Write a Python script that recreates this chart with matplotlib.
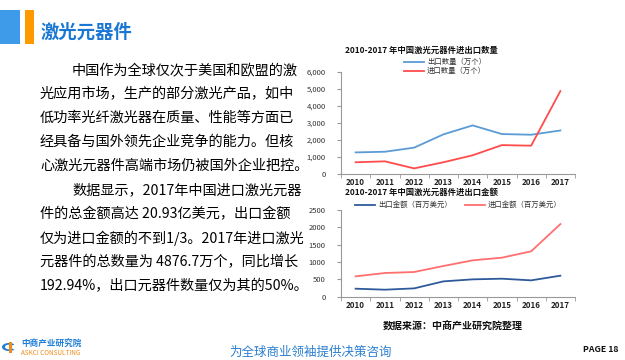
import matplotlib
matplotlib.use("Agg")
import matplotlib.pyplot as plt
from matplotlib.patches import Rectangle, Wedge
from matplotlib.ticker import FuncFormatter, FixedLocator

plt.rcParams['font.family'] = ['Noto Sans CJK SC', 'DejaVu Sans']

years = ["2010", "2011", "2012", "2013", "2014", "2015", "2016", "2017"]
export_qty = [1270, 1310, 1550, 2330, 2860, 2350, 2310, 2560]
import_qty = [690, 745, 330, 690, 1100, 1700, 1665, 4877]
export_amt = [231, 202, 240, 442, 500, 519, 471, 606]
import_amt = [587, 683, 712, 885, 1048, 1125, 1308, 2093]

top_title = "2010-2017 年中国激光元器件进出口数量"
top_legend = ["出口数量（万个）", "进口数量（万个）"]
bot_title = "2010-2017 年中国激光元器件进出口金额"
bot_legend = ["出口金额（百万美元）", "进口金额（百万美元）"]

body_lines = [
    "中国作为全球仅次于美国和欧盟的激",
    "光应用市场，生产的部分激光产品，如中",
    "低功率光纤激光器在质量、性能等方面已",
    "经具备与国外领先企业竞争的能力。但核",
    "心激光元器件高端市场仍被国外企业把控。",
    "数据显示，2017年中国进口激光元器",
    "件的总金额高达 20.93亿美元，出口金额",
    "仅为进口金额的不到1/3。2017年进口激光",
    "元器件的总数量为 4876.7万个，同比增长",
    "192.94%，出口元器件数量仅为其的50%。",
]
indent = [True, False, False, False, False, True, False, False, False, False]

W, H = 625, 360
fig = plt.figure(figsize=(6.25, 3.6), dpi=100)
fig.patch.set_facecolor("white")

def fx(x): return x / W
def fy(y): return 1 - y / H

# header bars
fig.patches.append(Rectangle((fx(0), fy(44)), fx(20), 34 / H, transform=fig.transFigure,
                             facecolor="#3d9be9", edgecolor="none"))
fig.patches.append(Rectangle((fx(25), fy(44)), fx(9), 34 / H, transform=fig.transFigure,
                             facecolor="#ff9900", edgecolor="none"))
fig.text(fx(41), fy(32), "激光元器件", fontsize=13.2, fontweight="bold", color="#1a78d4",
         va="center", ha="left")

# body text
y0 = 70
for i, line in enumerate(body_lines):
    x = 72 if indent[i] else 40
    fig.text(fx(x), fy(y0 + i * 24), line, fontsize=10.2, color="black", va="center", ha="left")

def style_axes(ax, ymax, step, fmt):
    n = len(years)
    ax.set_xlim(-0.5, n - 0.5)
    ax.set_ylim(0, ymax)
    for s in ["top", "right"]:
        ax.spines[s].set_visible(False)
    for s in ["left", "bottom"]:
        ax.spines[s].set_color("#999999")
        ax.spines[s].set_linewidth(0.8)
    ax.yaxis.set_major_locator(FixedLocator(list(range(0, ymax + 1, step))))
    ax.yaxis.set_major_formatter(FuncFormatter(fmt))
    ax.set_xticks(range(n))
    ax.set_xticklabels(years)
    ax.set_xticks([i + 0.5 for i in range(-1, n)], minor=True)
    ax.tick_params(axis="x", which="major", length=0, labelsize=5.8, pad=3, colors="#222222")
    ax.tick_params(axis="x", which="minor", length=3, color="#999999", direction="out")
    ax.tick_params(axis="y", length=3, color="#999999", labelsize=5.5, labelcolor="#333333", pad=8)
    for lab in ax.get_xticklabels():
        lab.set_fontweight("bold")
    ax.patch.set_alpha(0)

# top chart
ax1 = fig.add_axes([fx(341), fy(174), 234 / W, 102 / H])
x = range(len(years))
ax1.plot(x, export_qty, color="#5b9bd5", lw=1.3)
ax1.plot(x, import_qty, color="#ff4b4b", lw=1.3)
style_axes(ax1, 6000, 1000, lambda v, p: f"{int(v):,}")
fig.text(fx(345), fy(50), top_title, fontsize=6.0, fontweight="bold", color="#111111",
         va="center", ha="left")
for yy, col, lab in [(62, "#5b9bd5", top_legend[0]), (71, "#ff4b4b", top_legend[1])]:
    fig.lines.append(plt.Line2D([fx(404), fx(424)], [fy(yy), fy(yy)], color=col, lw=1.3,
                                transform=fig.transFigure))
    fig.text(fx(427), fy(yy), lab, fontsize=5.3, color="#333333", va="center", ha="left")

# bottom chart
ax2 = fig.add_axes([fx(341), fy(296.7), 234 / W, 86.7 / H])
ax2.plot(x, export_amt, color="#2e5a9c", lw=1.3)
ax2.plot(x, import_amt, color="#ff6f6f", lw=1.3)
style_axes(ax2, 2500, 500, lambda v, p: f"{int(v)}")
fig.text(fx(345), fy(192), bot_title, fontsize=6.0, fontweight="bold", color="#111111",
         va="center", ha="left")
for x0, col, lab in [(355, "#2e5a9c", bot_legend[0]), (465, "#ff6f6f", bot_legend[1])]:
    fig.lines.append(plt.Line2D([fx(x0), fx(x0 + 20)], [fy(205), fy(205)], color=col, lw=1.3,
                                transform=fig.transFigure))
    fig.text(fx(x0 + 23), fy(205), lab, fontsize=5.3, color="#333333", va="center", ha="left")

# source
fig.text(fx(383), fy(326), "数据来源：中商产业研究院整理", fontsize=7.2, fontweight="bold",
         color="#111111", va="center", ha="left")

# footer logo
fig.patches.append(Wedge((fx(9), fy(347)), 7 / W, 40, 320, width=3 / W, transform=fig.transFigure,
                         facecolor="#1f7fd6", edgecolor="none"))
fig.patches.append(Rectangle((fx(9), fy(353)), fx(3), 11 / H, transform=fig.transFigure,
                             facecolor="#f08a1c", edgecolor="none"))
fig.text(fx(21), fy(343), "中商产业研究院", fontsize=6.2, fontweight="bold", color="#1f7fd6",
         va="center", ha="left")
fig.text(fx(21), fy(353), "ASKCI CONSULTING", fontsize=4.6, color="#f08a1c",
         va="center", ha="left")
fig.text(fx(311), fy(352), "为全球商业领袖提供决策咨询", fontsize=9, color="#2a7fd0",
         style="italic", va="center", ha="center")
fig.text(fx(583), fy(350), "PAGE 18", fontsize=6.3, fontweight="bold", color="#111111",
         va="center", ha="left")

fig.savefig("out.png", dpi=100)
